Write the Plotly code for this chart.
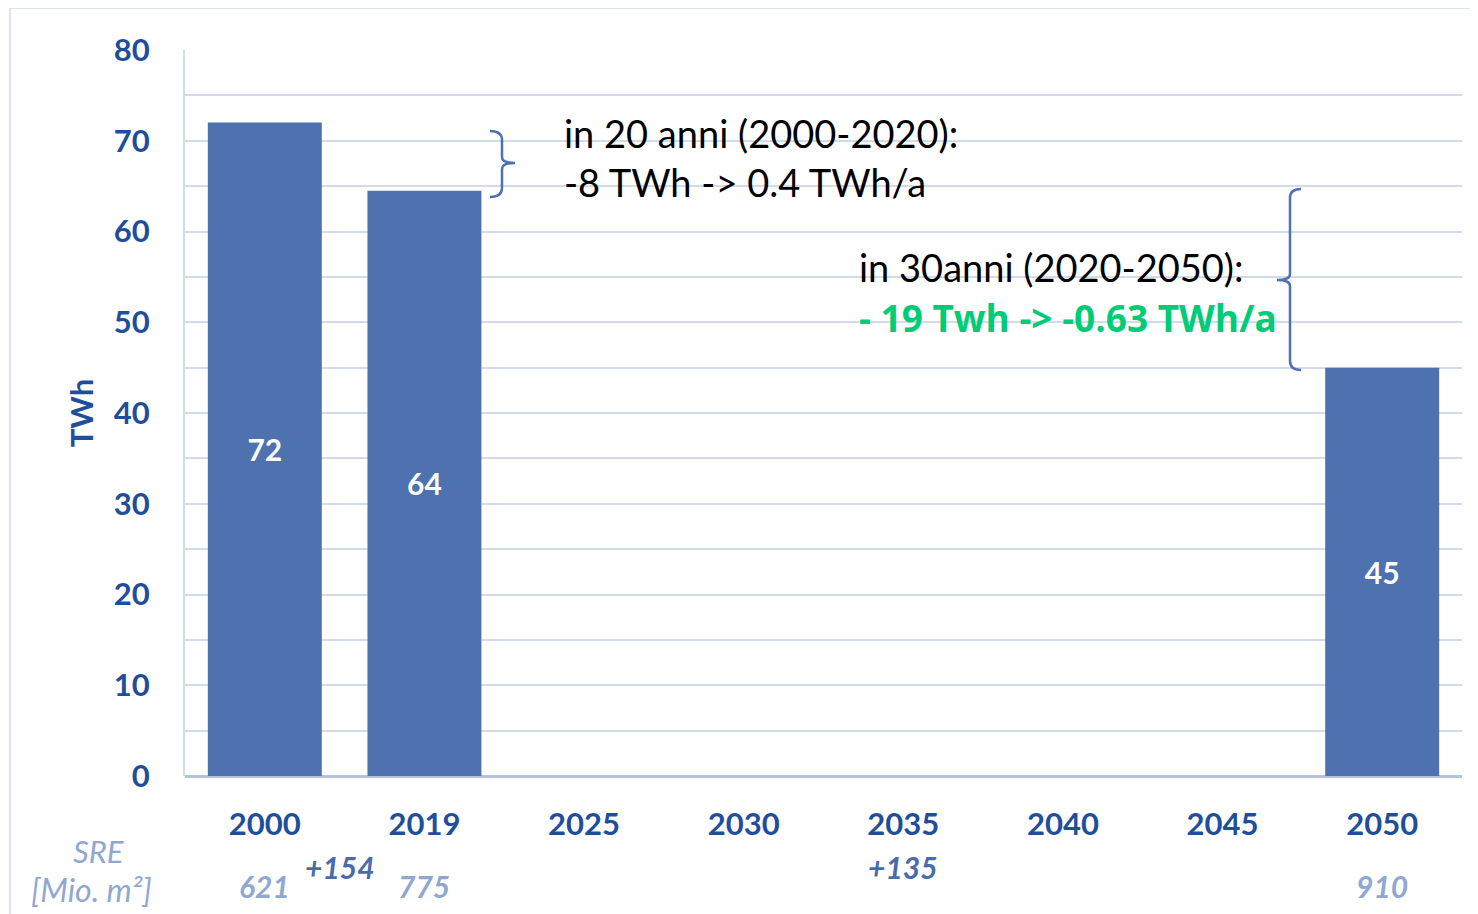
import plotly.graph_objects as go

years = ["2000", "2019", "2025", "2030", "2035", "2040", "2045", "2050"]
twh = [72, 64.5, None, None, None, None, None, 45]
bar_labels = ["72", "64", "", "", "", "", "", "45"]

sre_labels = ["621", "775", "", "", "", "", "", "910"]
sre_delta = ["+154", "+135"]

BLUE = "#1F4E9B"
BAR = "#4E71AF"
GRID = "#D3DBEA"
LIGHT = "#8FA8D0"
MID = "#4A6BAA"
GREEN = "#00CC78"

OFF = 8  # default page body margin
W, H = 1478 - OFF, 914 - OFF
PL, PR, PT, PB = 185, 1462, 50, 776  # plot area in page pixels
L, R, T, B = PL - OFF, 1478 - PR, PT - OFF, 914 - PB
PW = PR - PL
PH = PB - PT


def px(xp):
    return (xp - PL) / PW


def py(yp):
    return (PB - yp) / PH


xs = list(range(len(years)))

fig = go.Figure()
fig.add_trace(go.Bar(
    x=xs, y=twh, text=bar_labels, textposition="inside",
    insidetextanchor="middle",
    textfont=dict(family="Lato", size=30, color="white", weight="bold"),
    marker=dict(color=BAR, line=dict(width=0)),
    hoverinfo="skip", showlegend=False,
))

fig.update_layout(
    width=W, height=H,
    margin=dict(l=L, r=R, t=T, b=B, autoexpand=False),
    paper_bgcolor="white", plot_bgcolor="white",
    bargap=0.286,
    font=dict(family="Lato", color=BLUE),
)
fig.update_yaxes(
    range=[0, 80], tickvals=[0, 10, 20, 30, 40, 50, 60, 70, 80],
    tickfont=dict(family="Lato", size=31, color=BLUE, weight="bold"),
    showgrid=True, gridcolor=GRID, gridwidth=2,
    minor=dict(dtick=5, showgrid=True, gridcolor=GRID, gridwidth=2),
    showline=True, linecolor=GRID, linewidth=2,
    zeroline=True, zerolinecolor="#B4C2DC", zerolinewidth=3,
    ticks="", ticklabelstandoff=27,
    title=dict(text="TWh", font=dict(family="Lato", size=31, color=BLUE, weight="bold"), standoff=11),
)
fig.update_xaxes(
    range=[-0.5, len(years) - 0.5], tickvals=xs, ticktext=years,
    tickfont=dict(family="Lato", size=31, color=BLUE, weight="bold"),
    showgrid=False, ticks="", showline=False, zeroline=False, ticklabelstandoff=27,
)

shapes = []
# outer frame
shapes.append(dict(type="rect", xref="paper", yref="paper",
                   x0=px(10), x1=px(1500), y0=py(940), y1=py(8),
                   line=dict(color="#DDE3EF", width=2), fillcolor="rgba(0,0,0,0)", layer="below"))
# white boxes behind the texts
shapes.append(dict(type="rect", xref="paper", yref="paper",
                   x0=px(515), x1=px(962), y0=py(208), y1=py(110),
                   line=dict(width=0), fillcolor="white", layer="between"))
shapes.append(dict(type="rect", xref="paper", yref="paper",
                   x0=px(830), x1=px(1274), y0=py(345), y1=py(205),
                   line=dict(width=0), fillcolor="white", layer="between"))
# brace "}" 2000-2020
a, b, c = px(490), px(502), px(515)
y0, ym, y1 = py(131), py(163), py(197)
shapes.append(dict(type="path", xref="paper", yref="paper",
                   path=f"M{a},{y0} Q{b},{y0} {b},{py(140)} L{b},{py(157)} Q{b},{ym} {c},{ym} "
                        f"Q{b},{ym} {b},{py(169)} L{b},{py(188)} Q{b},{y1} {a},{y1}",
                   line=dict(color=BAR, width=2.5)))
# brace "{" 2020-2050
a, b, c = px(1301), px(1290), px(1277)
y0, ym, y1 = py(189), py(280), py(370)
shapes.append(dict(type="path", xref="paper", yref="paper",
                   path=f"M{a},{y0} Q{b},{y0} {b},{py(198)} L{b},{py(274)} Q{b},{ym} {c},{ym} "
                        f"Q{b},{ym} {b},{py(286)} L{b},{py(361)} Q{b},{y1} {a},{y1}",
                   line=dict(color=BAR, width=2.5)))
fig.update_layout(shapes=shapes)

ann = []
ann.append(dict(xref="paper", yref="paper", x=px(562), y=py(157), xanchor="left", yanchor="middle",
                text="in 20 anni (2000-2020):<br>-8 TWh -> 0.4 TWh/a", align="left", showarrow=False,
                font=dict(family="Lato", size=38, color="black")))
ann.append(dict(xref="paper", yref="paper", x=px(857), y=py(267), xanchor="left", yanchor="middle",
                text="in 30anni (2020-2050):", align="left", showarrow=False,
                font=dict(family="Lato", size=38, color="black")))
ann.append(dict(xref="paper", yref="paper", x=px(857), y=py(317), xanchor="left", yanchor="middle",
                text="<b>- 19 Twh -> -0.63 TWh/a</b>", align="left", showarrow=False,
                font=dict(family="Open Sans", size=37, color=GREEN, weight="bold")))
# SRE row
ann.append(dict(xref="paper", yref="paper", x=px(98), y=py(851), xanchor="center", yanchor="middle",
                text="<i>SRE</i>", showarrow=False, font=dict(family="Lato", size=31, color=LIGHT)))
ann.append(dict(xref="paper", yref="paper", x=px(91), y=py(889), xanchor="center", yanchor="middle",
                text="<i>[Mio. m²]</i>", showarrow=False, font=dict(family="Lato", size=32, color=LIGHT)))
for i, lab in enumerate(sre_labels):
    if lab:
        ann.append(dict(xref="x", yref="paper", x=i, y=py(886), xanchor="center", yanchor="middle",
                        text=f"<i><b>{lab}</b></i>", showarrow=False,
                        font=dict(family="Lato", size=30, color=LIGHT)))
ann.append(dict(xref="paper", yref="paper", x=px(340), y=py(867), xanchor="center", yanchor="middle",
                text=f"<i><b>{sre_delta[0]}</b></i>", showarrow=False,
                font=dict(family="Lato", size=30, color=MID)))
ann.append(dict(xref="x", yref="paper", x=4, y=py(867), xanchor="center", yanchor="middle",
                text=f"<i><b>{sre_delta[1]}</b></i>", showarrow=False,
                font=dict(family="Lato", size=30, color=MID)))
fig.update_layout(annotations=ann)

fig.write_html("out.html")
